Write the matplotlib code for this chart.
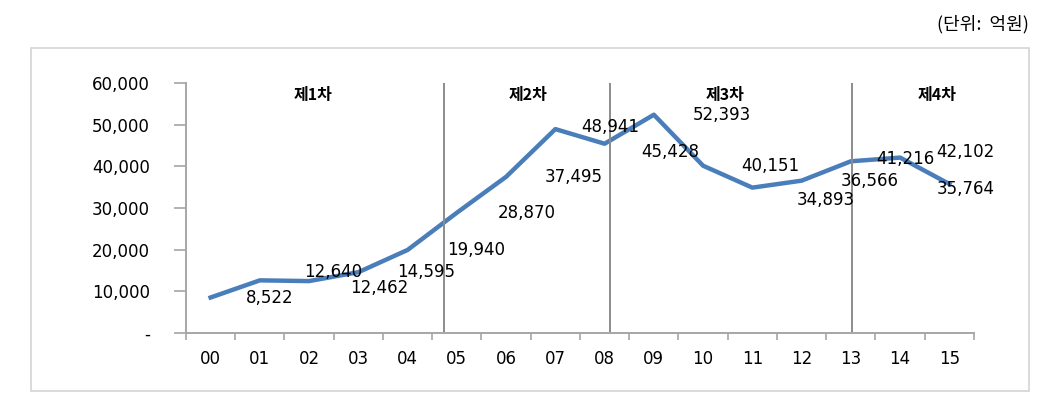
import matplotlib.pyplot as plt
from matplotlib.patches import Rectangle

plt.rcParams['font.family'] = 'DejaVu Sans'
KR = ['Noto Sans CJK KR', 'DejaVu Sans']

years = ['00', '01', '02', '03', '04', '05', '06', '07',
         '08', '09', '10', '11', '12', '13', '14', '15']
amounts = [8522, 12640, 12462, 14595, 19940, 28870, 37495, 48941,
           45428, 52393, 40151, 34893, 36566, 41216, 42102, 35764]
phases = ['제1차', '제2차', '제3차', '제4차']
yticks = [0, 10000, 20000, 30000, 40000, 50000, 60000]
ytick_labels = ['-', '10,000', '20,000', '30,000', '40,000', '50,000', '60,000']

# label offsets in pixels (dx right, dy up)
label_offsets = [(59, 0), (73, 8), (70, -7), (68, 0), (69, 0), (70, 0),
                 (68, 0), (55, 2), (66, -8), (68, 0), (67, 0), (73, -12),
                 (68, 0), (55, 2), (65, 6), (16, -5)]
phase_bounds = [4.74, 8.11, 13.02]
phase_pos = [2.08, 6.45, 10.45, 14.75]

fig = plt.figure(figsize=(10.64, 4.07), dpi=100)
ax = fig.add_axes([0.1748, 0.1818, 0.9154 - 0.1748, 0.796 - 0.1818])

fig.patches.append(Rectangle((0.0287, 0.0393), 0.967 - 0.0287, 0.882 - 0.0393,
                             transform=fig.transFigure, fill=False,
                             edgecolor='#d4d4d4', linewidth=1.2))

x = list(range(len(years)))
ax.plot(x, amounts, color='#4a7ebb', linewidth=3.2, solid_joinstyle='round')

for xi, v, (dx, dy) in zip(x, amounts, label_offsets):
    ax.annotate(f'{v:,}', (xi, v), xytext=(dx, dy), textcoords='offset pixels',
                ha='center', va='center', fontsize=12, color='black')

for b in phase_bounds:
    ax.axvline(b, color='#8c8c8c', linewidth=1.4)

for p, name in zip(phase_pos, phases):
    ax.text(p, 57200, name, ha='center', va='center', fontsize=11.5,
            fontweight='bold', family=KR)

ax.set_xlim(-0.5, len(years) - 0.5)
ax.set_ylim(0, 60000)
ax.set_yticks(yticks)
ax.set_yticklabels(ytick_labels, fontsize=12)
ax.set_xticks(x)
ax.set_xticklabels(years, fontsize=12)
ax.set_xticks([i - 0.5 for i in range(len(years) + 1)], minor=True)
ax.tick_params(axis='x', which='major', length=0, pad=12)
ax.tick_params(axis='x', which='minor', length=5, color='#a6a6a6', width=1.2)
ax.tick_params(axis='y', length=9, color='#a6a6a6', width=1.2, pad=17)

for s in ['top', 'right']:
    ax.spines[s].set_visible(False)
for s in ['left', 'bottom']:
    ax.spines[s].set_color('#a6a6a6')
    ax.spines[s].set_linewidth(1.4)

fig.text(0.967, 0.94, '(단위:  억원)', ha='right', va='center', fontsize=13,
         family=KR)

fig.savefig('out.png', dpi=100)
